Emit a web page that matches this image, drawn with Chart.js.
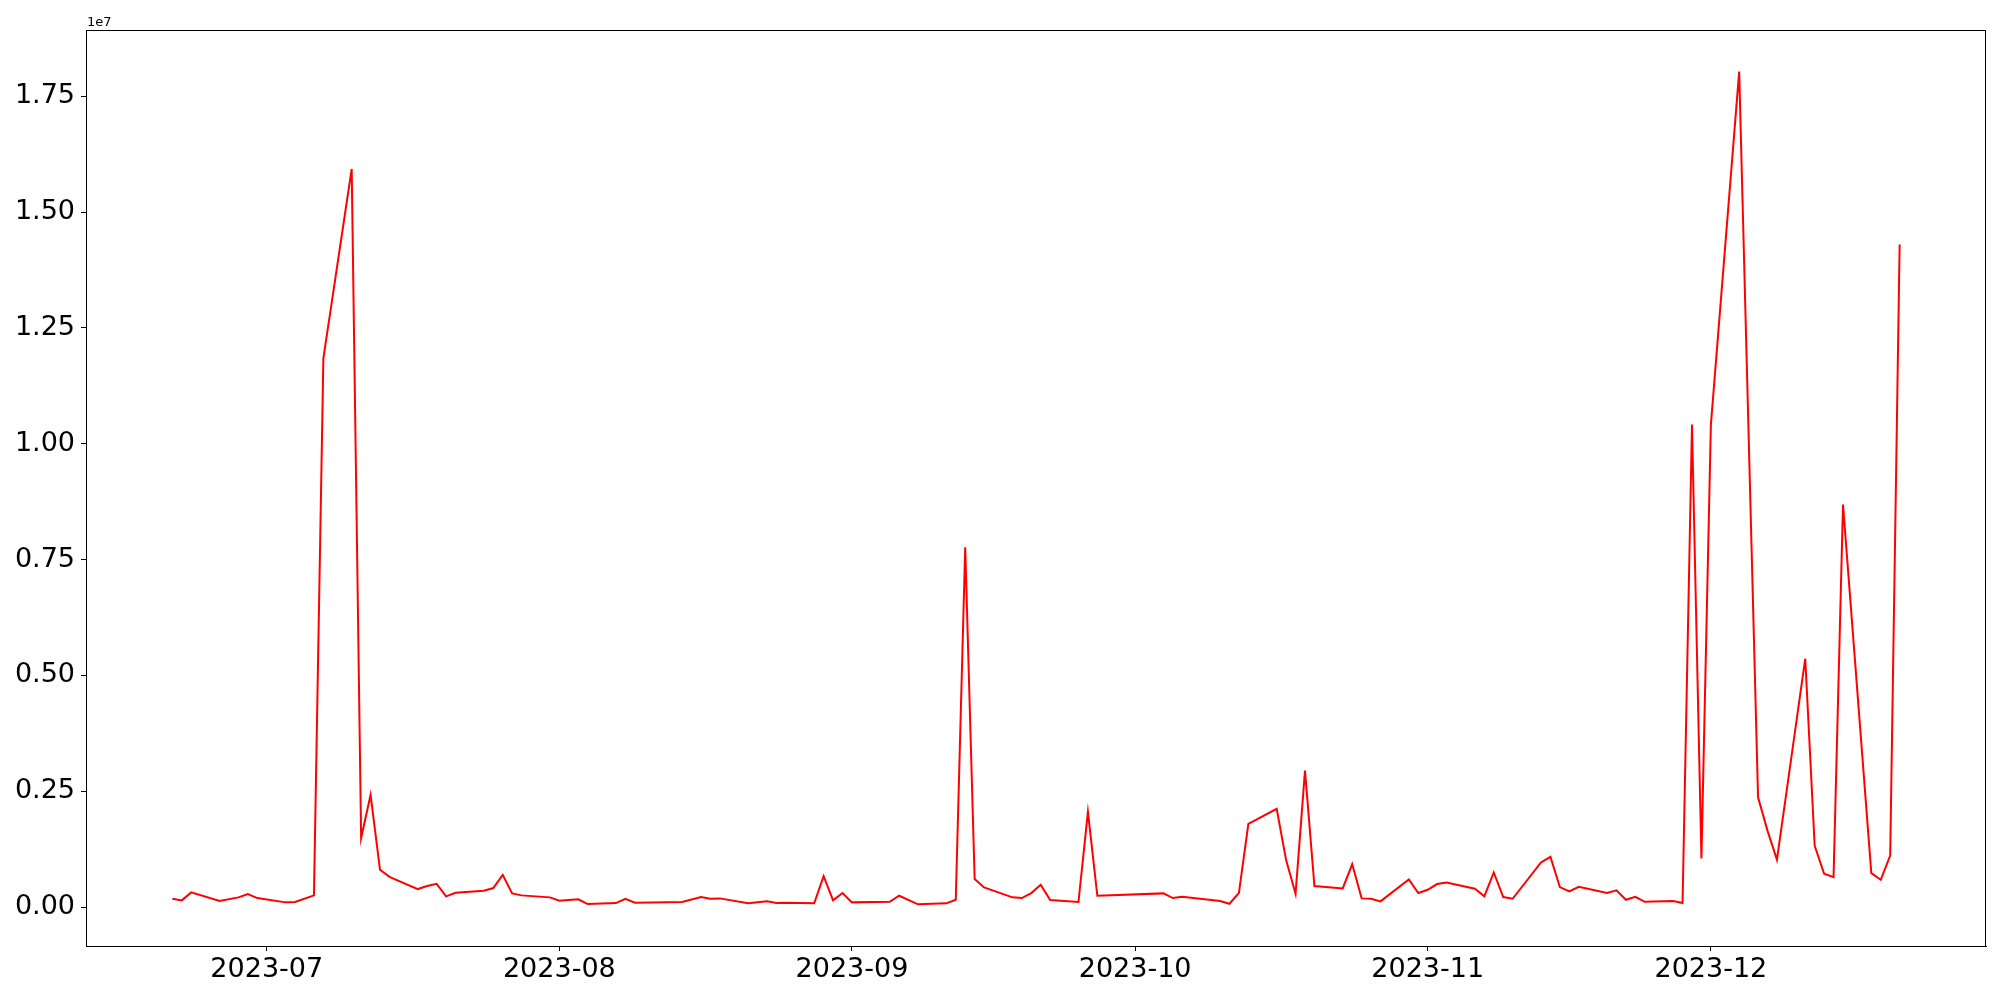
<!DOCTYPE html>
<html>
<head>
<meta charset="utf-8">
<script src="https://cdn.jsdelivr.net/npm/chart.js@4"></script>
<style>
  html, body { margin: 0; padding: 0; background: #ffffff; }
  #wrap { width: 2000px; height: 1000px; }
</style>
</head>
<body>
<div id="wrap"><canvas id="c" width="2000" height="1000"></canvas></div>
<script>
// ---- data ----
const dates = [
  '2023-06-21','2023-06-22','2023-06-23','2023-06-26','2023-06-28','2023-06-29','2023-06-30',
  '2023-07-03','2023-07-04','2023-07-06','2023-07-07','2023-07-10','2023-07-11','2023-07-12',
  '2023-07-13','2023-07-14','2023-07-17','2023-07-18','2023-07-19','2023-07-20','2023-07-21',
  '2023-07-24','2023-07-25','2023-07-26','2023-07-27','2023-07-28','2023-07-31','2023-08-01',
  '2023-08-03','2023-08-04','2023-08-07','2023-08-08','2023-08-09','2023-08-14','2023-08-16',
  '2023-08-17','2023-08-18','2023-08-21','2023-08-23','2023-08-24','2023-08-25','2023-08-28',
  '2023-08-29','2023-08-30','2023-08-31','2023-09-01','2023-09-05','2023-09-06','2023-09-08',
  '2023-09-11','2023-09-12','2023-09-13','2023-09-14','2023-09-15','2023-09-18','2023-09-19',
  '2023-09-20','2023-09-21','2023-09-22','2023-09-25','2023-09-26','2023-09-27','2023-10-04',
  '2023-10-05','2023-10-06','2023-10-10','2023-10-11','2023-10-12','2023-10-13','2023-10-16',
  '2023-10-17','2023-10-18','2023-10-19','2023-10-20','2023-10-23','2023-10-24','2023-10-25',
  '2023-10-26','2023-10-27','2023-10-30','2023-10-31','2023-11-01','2023-11-02','2023-11-03',
  '2023-11-06','2023-11-07','2023-11-08','2023-11-09','2023-11-10','2023-11-13','2023-11-14',
  '2023-11-15','2023-11-16','2023-11-17','2023-11-20','2023-11-21','2023-11-22','2023-11-23',
  '2023-11-24','2023-11-27','2023-11-28','2023-11-29','2023-11-30','2023-12-01','2023-12-04',
  '2023-12-06','2023-12-07','2023-12-08','2023-12-11','2023-12-12','2023-12-13','2023-12-14',
  '2023-12-15','2023-12-18','2023-12-19','2023-12-20','2023-12-21'
];
const values = [
  179000, 144000, 317000, 129000, 209000, 280000, 194000,
  101000, 108000, 252000, 11840000, 15930000, 1490000, 2420000,
  804000, 653000, 388000, 453000, 502000, 231000, 308000,
  351000, 410000, 696000, 295000, 252000, 209000, 136000,
  166000, 65000, 86000, 179000, 93000, 108000, 216000,
  179000, 187000, 80000, 123000, 86000, 93000, 80000,
  668000, 144000, 302000, 101000, 114000, 244000, 58000,
  80000, 157000, 7765000, 603000, 424000, 209000, 194000,
  302000, 480000, 151000, 108000, 2054000, 244000, 295000,
  194000, 222000, 129000, 71000, 308000, 1795000, 2119000,
  1013000, 287000, 2946000, 453000, 403000, 927000, 187000,
  179000, 123000, 597000, 302000, 373000, 496000, 532000,
  395000, 231000, 747000, 216000, 179000, 963000, 1085000,
  431000, 338000, 438000, 302000, 360000, 157000, 222000,
  114000, 129000, 86000, 10416000, 1050000, 10400000, 18030000,
  2370000, 1650000, 1020000, 5360000, 1320000, 718000, 647000,
  8685000, 733000, 589000, 1110000, 14300000
];
const monthTickDates = ['2023-07-01','2023-08-01','2023-09-01','2023-10-01','2023-11-01','2023-12-01'];
const monthTickLabels = ['2023-07','2023-08','2023-09','2023-10','2023-11','2023-12'];
const yTickValues = [0, 2500000, 5000000, 7500000, 10000000, 12500000, 15000000, 17500000];
const yOffsetLabel = '1e7';
const yScaleFactor = 1e7;

// ---- helpers ----
const DAY = 86400000;
const toDay = s => Date.parse(s + 'T00:00:00Z') / DAY;
const points = dates.map((d, i) => ({ x: toDay(d), y: values[i] }));
const monthTickDays = monthTickDates.map(toDay);

const xs = points.map(p => p.x);
const xMinD = Math.min(...xs), xMaxD = Math.max(...xs);
const xPad = (xMaxD - xMinD) * 0.05;
const yMinD = Math.min(...values), yMaxD = Math.max(...values);
const yPad = (yMaxD - yMinD) * 0.05;

const FONT = 'DejaVu Sans';

const framePlugin = {
  id: 'frame',
  afterDraw(chart) {
    const { ctx, chartArea: a } = chart;
    ctx.save();
    ctx.strokeStyle = '#000';
    ctx.lineWidth = 1;
    ctx.strokeRect(Math.round(a.left) + 0.5, Math.round(a.top) + 0.5,
                   Math.round(a.right - a.left) - 1, Math.round(a.bottom - a.top));
    ctx.fillStyle = '#000';
    ctx.font = '13px "' + FONT + '"';
    ctx.textAlign = 'left';
    ctx.textBaseline = 'alphabetic';
    ctx.fillText(yOffsetLabel, a.left + 1, a.top - 4);
    ctx.restore();
  }
};

new Chart(document.getElementById('c'), {
  type: 'line',
  data: {
    datasets: [{
      data: points,
      borderColor: '#ff0000',
      borderWidth: 2,
      pointRadius: 0,
      tension: 0,
      fill: false
    }]
  },
  options: {
    responsive: false,
    animation: false,
    devicePixelRatio: 1,
    layout: { padding: { left: 0, top: 30, right: 14, bottom: 0 } },
    plugins: { legend: { display: false }, tooltip: { enabled: false } },
    scales: {
      x: {
        type: 'linear',
        min: xMinD - xPad,
        max: xMaxD + xPad,
        afterBuildTicks(scale) { scale.ticks = monthTickDays.map(v => ({ value: v })); },
        afterFit(scale) { scale.height = 54; },
        ticks: {
          autoSkip: false,
          maxRotation: 0,
          padding: 3,
          color: '#000',
          font: { family: FONT, size: 27 },
          callback(v) { const i = monthTickDays.indexOf(v); return i >= 0 ? monthTickLabels[i] : ''; }
        },
        grid: { drawOnChartArea: false, drawTicks: true, tickLength: 5, color: '#000', lineWidth: 1 },
        border: { display: true, color: '#000', width: 1 }
      },
      y: {
        type: 'linear',
        min: yMinD - yPad,
        max: yMaxD + yPad,
        afterBuildTicks(scale) { scale.ticks = yTickValues.map(v => ({ value: v })); },
        afterFit(scale) { scale.width = 86; },
        ticks: {
          autoSkip: false,
          padding: 6,
          color: '#000',
          font: { family: FONT, size: 27 },
          callback(v) { return (v / yScaleFactor).toFixed(2); }
        },
        grid: { drawOnChartArea: false, drawTicks: true, tickLength: 5, color: '#000', lineWidth: 1 },
        border: { display: true, color: '#000', width: 1 }
      }
    }
  },
  plugins: [framePlugin]
});
</script>
</body>
</html>
